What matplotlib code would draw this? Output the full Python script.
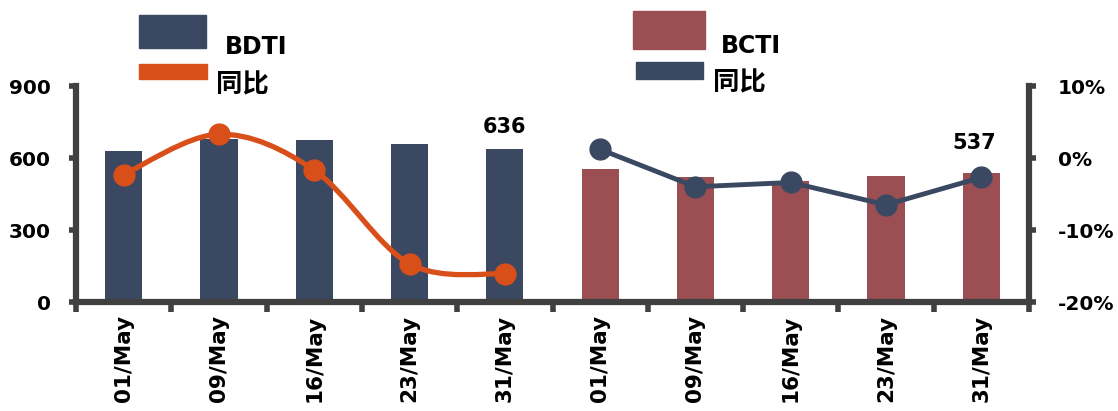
import numpy as np
import matplotlib
matplotlib.use("Agg")
import matplotlib.pyplot as plt
from matplotlib.path import Path
from matplotlib.patches import PathPatch, Rectangle

plt.rcParams['font.family'] = ['DejaVu Sans', 'Noto Sans CJK SC']
plt.rcParams['font.weight'] = 'bold'

# data
dates = ['01/May', '09/May', '16/May', '23/May', '31/May']
bdti = [628, 678, 675, 660, 636]
bcti = [553, 519, 506, 523, 537]
bdti_yoy = [-2.3, 3.3, -1.7, -14.7, -16.1]
bcti_yoy = [1.2, -4.0, -3.4, -6.5, -2.7]

navy = '#3A4862'
brown = '#9B4F52'
orange = '#D94F1A'
axcol = '#404040'


def smooth_path(xs, ys):
    # Excel-like smoothed line: cubic bezier through the points
    pts = np.column_stack([xs, ys]).astype(float)
    n = len(pts)
    verts = [pts[0]]
    codes = [Path.MOVETO]
    for i in range(n - 1):
        p0 = pts[max(i - 1, 0)]
        p1 = pts[i]
        p2 = pts[i + 1]
        p3 = pts[min(i + 2, n - 1)]
        verts += [p1 + (p2 - p0) / 6, p2 - (p3 - p1) / 6, p2]
        codes += [Path.CURVE4] * 3
    return Path(verts, codes)


fig = plt.figure(figsize=(11.18, 4.11), dpi=100)
ax = fig.add_axes([76 / 1118, 1 - 302 / 411, (1029 - 76) / 1118, (302 - 86) / 411])
ax2 = ax.twinx()

x1 = np.arange(len(dates))
x2 = np.arange(len(dates)) + len(dates)
w = 0.39

ax.bar(x1, bdti, width=w, color=navy, zorder=2)
ax.bar(x2, bcti, width=w, color=brown, zorder=2)

ax.set_xlim(-0.5, 9.5)
ax.set_ylim(0, 900)
ax.set_yticks([0, 300, 600, 900])
ax.set_xticks(np.arange(10))
ax.set_xticklabels(dates + dates, rotation=90, fontsize=15.5, fontweight='bold')
ax.set_xticks(np.arange(-0.5, 10, 1), minor=True)
ax.tick_params(axis='x', which='major', length=0, pad=9)
ax.tick_params(axis='x', which='minor', length=7, width=4, color=axcol, direction='out')
ax.tick_params(axis='y', length=5, width=4, color=axcol, labelsize=14.5, pad=13)

ax2.set_ylim(-20, 10)
ax2.set_yticks([-20, -10, 0, 10])
ax2.set_yticklabels(['-20%', '-10%', '0%', '10%'])
ax2.tick_params(axis='y', length=5, width=4, color=axcol, labelsize=14.5, pad=16)

for a in (ax, ax2):
    for s in a.spines.values():
        s.set_visible(False)
ax.spines['left'].set_visible(True)
ax.spines['bottom'].set_visible(True)
ax2.spines['right'].set_visible(True)
for a, side in ((ax, 'left'), (ax, 'bottom'), (ax2, 'right')):
    a.spines[side].set_linewidth(4.5)
    a.spines[side].set_color(axcol)

# yoy lines
ax2.add_patch(PathPatch(smooth_path(x1, bdti_yoy), facecolor='none', edgecolor=orange,
                        lw=3.8, zorder=3))
ax2.plot(x1, bdti_yoy, 'o', color=orange, ms=15, zorder=4)
ax2.plot(x2, bcti_yoy, '-o', color=navy, lw=3.5, ms=15, zorder=4)

# value labels on the last bars
ax.text(x1[-1], bdti[-1] + 50, str(bdti[-1]), ha='center', va='bottom', fontsize=15, fontweight='bold')
ax.text(x2[-1] - 0.08, bcti[-1] + 82, str(bcti[-1]), ha='center', va='bottom', fontsize=15, fontweight='bold')


# legends drawn by hand like the source
def fx(px):
    return px / 1118


def fy(py):
    return 1 - py / 411


fig.patches.append(Rectangle((fx(139), fy(48)), fx(67), 33 / 411, color=navy, transform=fig.transFigure))
fig.patches.append(Rectangle((fx(139), fy(79)), fx(68), 15 / 411, color=orange, transform=fig.transFigure))
fig.patches.append(Rectangle((fx(633), fy(49)), fx(72), 38 / 411, color=brown, transform=fig.transFigure))
fig.patches.append(Rectangle((fx(636), fy(79)), fx(67), 17 / 411, color=navy, transform=fig.transFigure))

fig.text(fx(225), fy(47), 'BDTI', fontsize=17, fontweight='bold', va='center', ha='left')
fig.text(fx(216), fy(85), '同比', fontsize=19, fontweight='bold', va='center', ha='left',
         family='Noto Sans CJK SC')
fig.text(fx(721), fy(46), 'BCTI', fontsize=17, fontweight='bold', va='center', ha='left')
fig.text(fx(713), fy(83), '同比', fontsize=19, fontweight='bold', va='center', ha='left',
         family='Noto Sans CJK SC')

fig.savefig('out.png', dpi=100)
